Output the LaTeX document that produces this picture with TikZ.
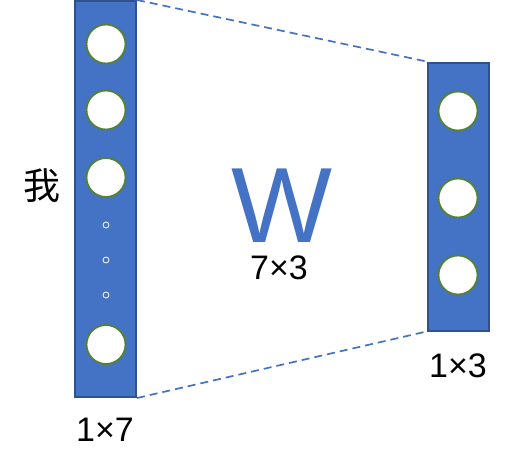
\documentclass[tikz,border=0pt]{standalone}
\usepackage{fontspec}
\setmainfont{Liberation Sans}
\newfontfamily\cjk{Noto Sans CJK SC}
\definecolor{barblue}{HTML}{4472C4}
\definecolor{bardark}{HTML}{2F528F}
\definecolor{ringgreen}{HTML}{548235}
\tikzset{
  bar/.style={draw=bardark, line width=2pt, fill=barblue, minimum width=61pt, inner sep=0pt},
  unit/.style={circle, draw=ringgreen, fill=white, line width=1.8pt, minimum size=39pt, inner sep=0pt},
  dot/.style={circle, draw=white, line width=0.8pt, minimum size=6pt, inner sep=0pt},
  link/.style={draw=barblue, line width=1.7pt, dash pattern=on 8pt off 5pt},
  lbl/.style={font=\fontsize{34}{40}\selectfont, inner sep=0pt}
}
\begin{document}
\begin{tikzpicture}[x=1pt,y=-1pt]
\useasboundingbox (0,0) rectangle (514,474);
\node[bar, minimum height=396pt] (L) at (105.5,199) {};
\node[bar, minimum height=268pt] (R) at (458,196.5) {};
\node[unit] (l1) at (106,44) {};
\node[unit] (l2) at (106,110) {};
\node[unit] (l3) at (106,177.5) {};
\node[dot] (d1) at (106,225) {};
\node[dot] (d2) at (106,260) {};
\node[dot] (d3) at (106,295) {};
\node[unit] (l4) at (106,344.5) {};
\node[unit] (r1) at (458,111) {};
\node[unit] (r2) at (458,198) {};
\node[unit] (r3) at (458,275) {};
\draw[link] (L.north east) -- (R.north west);
\draw[link] (L.south east) -- (R.south west);
\node[inner sep=0pt, text=barblue, text height=77pt, text depth=0pt, font=\fontsize{107}{110}\selectfont] (W) at (282,203.5) {W};
\node[lbl] (w) at (279,268) {7×3};
\node[lbl] (a) at (105,430) {1×7};
\node[lbl] (b) at (458,366) {1×3};
\node[inner sep=0pt, font=\cjk\fontsize{37}{40}\selectfont] (wo) at (42,186) {我};
\end{tikzpicture}
\end{document}
